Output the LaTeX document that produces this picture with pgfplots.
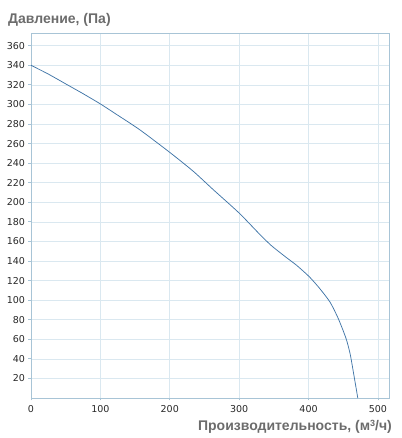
\documentclass[border=0pt]{standalone}
\usepackage{fontspec}
\setmainfont{DejaVu Sans}
\newfontfamily\labfont{Liberation Sans}
\usepackage{pgfplots}
\pgfplotsset{compat=1.18}
\definecolor{gridc}{RGB}{218,232,240}
\definecolor{axc}{RGB}{168,196,214}
\definecolor{curvec}{RGB}{66,118,168}
\definecolor{labc}{RGB}{108,108,108}
\definecolor{tickc}{RGB}{40,40,40}
\begin{document}
\begin{tikzpicture}
\begin{axis}[
  at={(31pt,40pt)}, anchor=south west,
  scale only axis, width=358pt, height=365pt,
  xmin=0, xmax=516, ymin=0, ymax=373,
  xtick={0,100,200,300,400,500},
  ytick={20,40,...,360},
  grid=major,
  major grid style={gridc, line width=0.7pt},
  axis line style={axc, line width=0.8pt},
  tick align=outside, major tick length=2.5pt,
  tick style={axc, line width=0.8pt},
  xtick pos=bottom, ytick pos=left,
  tick label style={font=\fontsize{9.5}{11}\selectfont, text=tickc},
  /pgf/number format/assume math mode=true,
  /pgf/number format/1000 sep={},
  xticklabel style={yshift=-1pt},
  clip=false,
]
\addplot[curvec, line width=0.75pt, smooth, tension=0.4] coordinates {
(0,340) (25,331) (50,321) (75,311) (100,300.5) (125,289) (157,274)
(200,251) (234,231.6) (263,212.7) (300,189) (330,167) (346,156)
(360,148) (370,142.5) (383,135.5) (401,124) (416,112) (431,98)
(443,81) (454,61) (460,45) (465,25) (471,0)
};
\end{axis}
\node[anchor=base west, font=\labfont\bfseries\fontsize{14}{16}\selectfont, text=labc, inner sep=0pt] at (8pt,414pt) {Давление, (Па)};
\node[anchor=base east, font=\labfont\bfseries\fontsize{14}{16}\selectfont, text=labc, inner sep=0pt] at (392pt,7pt) {Производительность, (м{\fontsize{9}{10}\selectfont\raisebox{4pt}{3}}/ч)};
\pgfresetboundingbox
\useasboundingbox (0,0) rectangle (401pt,438pt);
\end{tikzpicture}
\end{document}
